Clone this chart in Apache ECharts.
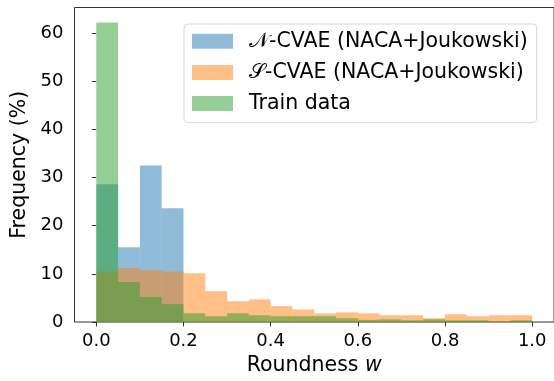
<!DOCTYPE html>
<html>
<head>
<meta charset="utf-8">
<script src="https://cdn.jsdelivr.net/npm/echarts@6/dist/echarts.min.js"></script>
<style>
  html, body { margin: 0; padding: 0; background: #fff; }
  #chart { width: 554px; height: 381px; }
</style>
</head>
<body>
<div id="chart"></div>
<script>
// Histogram bins of roundness w (width 0.05)
const binStarts = [0.00, 0.05, 0.10, 0.15, 0.20, 0.25, 0.30, 0.35, 0.40, 0.45,
                   0.50, 0.55, 0.60, 0.65, 0.70, 0.75, 0.80, 0.85, 0.90, 0.95];
const binEnds   = [0.05, 0.10, 0.15, 0.20, 0.25, 0.30, 0.35, 0.40, 0.45, 0.50,
                   0.55, 0.60, 0.65, 0.70, 0.75, 0.80, 0.85, 0.90, 0.95, 1.00];

// Frequency (%) per bin
const nCvae = [28.6, 15.5, 32.5, 23.6, 0, 0, 0, 0, 0, 0,
               0, 0, 0, 0, 0, 0, 0, 0, 0, 0];
const sCvae = [10.5, 11.2, 10.8, 10.5, 10.1, 6.4, 4.3, 4.7, 3.3, 2.6,
               1.8, 2.0, 1.8, 1.4, 1.4, 0.8, 1.6, 1.2, 1.4, 1.4];
const train = [62.2, 8.3, 5.2, 3.7, 1.8, 1.2, 1.8, 1.4, 1.2, 1.2,
               1.2, 0.8, 0.45, 0.55, 0.35, 0.55, 0.35, 0.35, 0.1, 0.35];

const xTicks = [0.0, 0.2, 0.4, 0.6, 0.8, 1.0];
const yTicks = [0, 10, 20, 30, 40, 50, 60];

const seriesNames = ['𝒩-CVAE (NACA+Joukowski)', '𝒮-CVAE (NACA+Joukowski)', 'Train data'];
const seriesColors = ['rgba(31,119,180,0.5)', 'rgba(255,127,14,0.5)', 'rgba(44,160,44,0.5)'];

const FONT = '"DejaVu Sans", sans-serif';
const TICK_SIZE = 18;
const TEXT_SIZE = 20.5;

function toData(values) {
  return values.map((v, i) => [binStarts[i], binEnds[i], v]);
}

function renderBin(params, api) {
  const top = api.coord([api.value(0), api.value(2)]);
  const bottom = api.coord([api.value(1), 0]);
  return {
    type: 'rect',
    shape: { x: top[0], y: top[1], width: bottom[0] - top[0], height: bottom[1] - top[1] },
    style: api.style()
  };
}

const chart = echarts.init(document.getElementById('chart'), null, { renderer: 'canvas' });

chart.setOption({
  animation: false,
  backgroundColor: '#fff',
  grid: {
    left: 74.5, top: 7.5, right: -4.7, bottom: 59,
    show: true, borderColor: '#333', borderWidth: 1, backgroundColor: 'transparent'
  },
  legend: {
    orient: 'vertical',
    left: 184, top: 24,
    itemWidth: 41, itemHeight: 15, itemGap: 10.2,
    padding: [6.7, 9, 8.5, 8],
    borderColor: '#d6d6d6', borderWidth: 1, borderRadius: 4,
    backgroundColor: 'rgba(255,255,255,0.8)',
    icon: 'rect',
    selectedMode: false,
    textStyle: { fontFamily: FONT, fontSize: TEXT_SIZE, color: '#000', padding: [0, 0, 0, 11] },
    data: seriesNames
  },
  xAxis: {
    type: 'value', min: -0.05, max: 1.05,
    splitLine: { show: false },
    axisLine: { show: false },
    axisTick: { show: true, length: 4.5, customValues: xTicks, lineStyle: { color: '#333' } },
    axisLabel: {
      customValues: xTicks, margin: 10,
      fontFamily: FONT, fontSize: TICK_SIZE, color: '#000',
      formatter: v => v.toFixed(1)
    },
    name: '{t|Roundness }{i|w}',
    nameLocation: 'middle', nameGap: 32,
    nameTextStyle: {
      rich: {
        t: { fontFamily: FONT, fontSize: TEXT_SIZE, color: '#000' },
        i: { fontFamily: FONT, fontSize: TEXT_SIZE, color: '#000', fontStyle: 'italic' }
      }
    }
  },
  yAxis: {
    type: 'value', min: 0, max: 65.3,
    splitLine: { show: false },
    axisLine: { show: false },
    axisTick: { show: true, length: 4.5, customValues: yTicks, lineStyle: { color: '#333' } },
    axisLabel: {
      customValues: yTicks, margin: 11,
      fontFamily: FONT, fontSize: TICK_SIZE, color: '#000'
    },
    name: 'Frequency (%)',
    nameLocation: 'middle', nameGap: 38,
    nameTextStyle: { fontFamily: FONT, fontSize: TEXT_SIZE, color: '#000' }
  },
  series: [nCvae, sCvae, train].map((vals, k) => ({
    type: 'custom',
    name: seriesNames[k],
    renderItem: renderBin,
    encode: { x: [0, 1], y: 2 },
    itemStyle: { color: seriesColors[k] },
    data: toData(vals)
  }))
});
</script>
</body>
</html>
